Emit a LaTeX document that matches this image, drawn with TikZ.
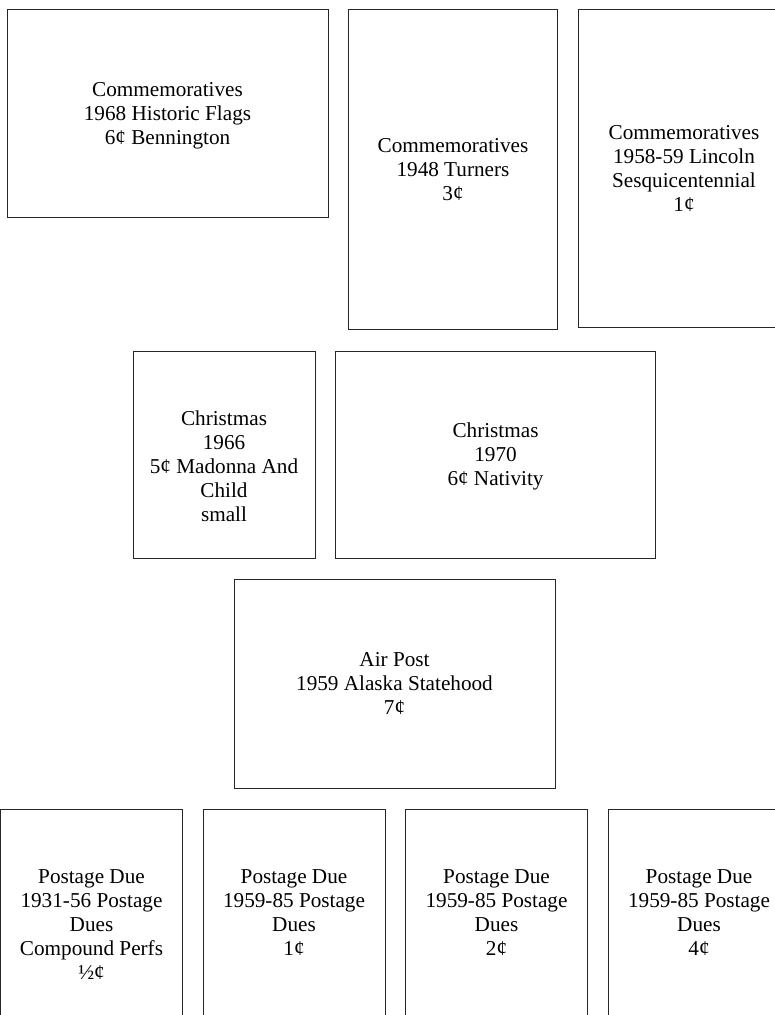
\documentclass[tikz,border=0pt]{standalone}
\usepackage{fontspec}
\setmainfont{Liberation Serif}
\usetikzlibrary{positioning}
\tikzset{
  txt/.style={align=center,inner sep=0pt,text=black,text depth=0pt,font=\fontsize{21.2bp}{24bp}\selectfont},
  stamp/.style={txt,draw=black!85,line width=1bp,outer sep=0pt,anchor=north west},
  landscape/.style={stamp,minimum width=321bp,minimum height=208bp},
  portrait/.style={stamp,minimum width=209bp,minimum height=319bp},
  squarish/.style={stamp,minimum width=182bp,minimum height=208bp},
}

\begin{document}
\begin{tikzpicture}[x=1bp,y=-1bp,node distance=20.5bp]
  \useasboundingbox (0,0) rectangle (775,1015);
  \clip (0,0) rectangle (775,1015);
  % top row
  \node[landscape] (flags) at (7,9) {Commemoratives\\1968 Historic Flags\\6¢ Bennington};
  \node[portrait,minimum height=320bp,right=of flags.north east,anchor=north west] (turners) {Commemoratives\\1948 Turners\\3¢};
  \node[portrait,minimum width=212bp,minimum height=318bp,right=of turners.north east,anchor=north west] (lincoln) {Commemoratives\\1958-59 Lincoln\\Sesquicentennial\\1¢};
  % christmas
  \node[squarish,minimum height=207bp,label={[txt,yshift=-12bp]center:Christmas\\1966\\5¢ Madonna And\\Child\\small}] (madonna) at (133,351) {};
  \node[landscape,minimum width=320bp,minimum height=207bp,right=of madonna.north east,anchor=north west] (nativity) {Christmas\\1970\\6¢ Nativity};
  % air post
  \node[landscape,minimum height=209bp] (alaska) at (234,579) {Air Post\\1959 Alaska Statehood\\7¢};
  % postage dues
  \node[squarish,label={[txt,yshift=-12bp]center:Postage Due\\1931-56 Postage\\Dues\\Compound Perfs\\½¢}] (due0) at (0.5,809) {};
  \node[squarish,right=of due0.north east,anchor=north west] (due1) {Postage Due\\1959-85 Postage\\Dues\\1¢};
  \node[squarish,right=of due1.north east,anchor=north west] (due2) {Postage Due\\1959-85 Postage\\Dues\\2¢};
  \node[squarish,right=of due2.north east,anchor=north west] (due4) {Postage Due\\1959-85 Postage\\Dues\\4¢};
\end{tikzpicture}
\end{document}
